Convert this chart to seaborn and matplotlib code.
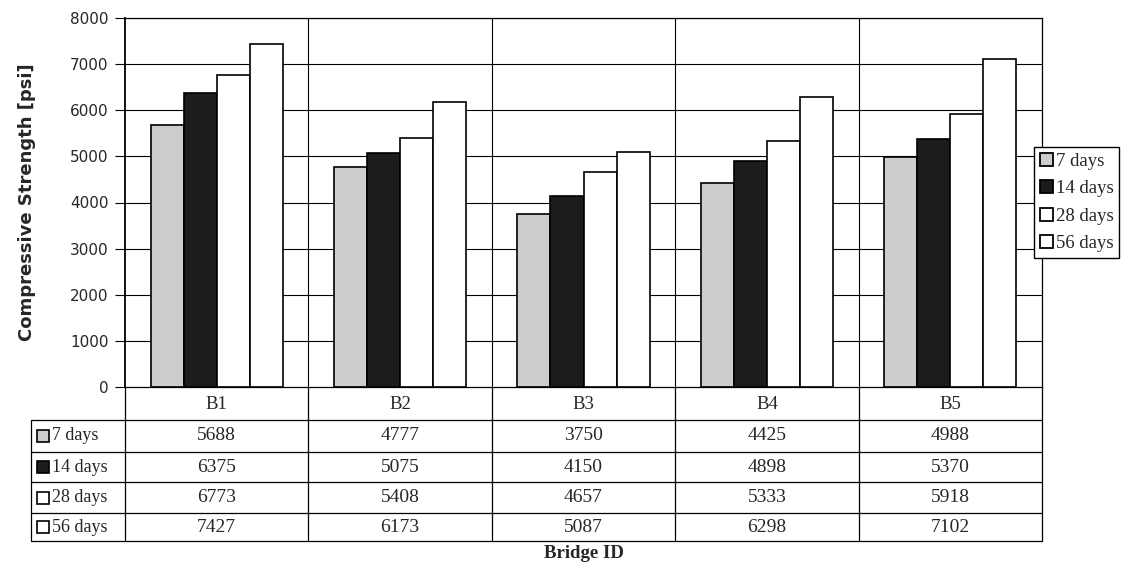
"""Compressive strength by bridge with an Excel-style data table underneath."""

import matplotlib
matplotlib.use("Agg")
import matplotlib.pyplot as plt
import pandas as pd
import seaborn as sns
from matplotlib.patches import Rectangle

BRIDGES = ["B1", "B2", "B3", "B4", "B5"]
AGES = ["7 days", "14 days", "28 days", "56 days"]
DAYS_7 = [5688, 4777, 3750, 4425, 4988]
DAYS_14 = [6375, 5075, 4150, 4898, 5370]
DAYS_28 = [6773, 5408, 4657, 5333, 5918]
DAYS_56 = [7427, 6173, 5087, 6298, 7102]
Y_TICKS = [0, 1000, 2000, 3000, 4000, 5000, 6000, 7000, 8000]

COLORS = {"7 days": "#cdcdcd", "14 days": "#1c1c1c", "28 days": "#ffffff", "56 days": "#ffffff"}
SERIF = ["Liberation Serif", "DejaVu Serif"]
SANS = ["DejaVu Sans"]

W, H = 1122, 567


def fx(px):
    return px / W


def fy(py):
    return 1 - py / H


series = [DAYS_7, DAYS_14, DAYS_28, DAYS_56]
df = pd.DataFrame(
    [(b, age, vals[i]) for age, vals in zip(AGES, series) for i, b in enumerate(BRIDGES)],
    columns=["bridge", "age", "strength"],
)

sns.set_theme(style="white")
plt.rcParams["font.family"] = SERIF

fig = plt.figure(figsize=(W / 100, H / 100), dpi=100)
fig.patch.set_facecolor("white")

# main plot area (pixel bounds)
L, R, T, B = 125, 1042, 18, 387
ax = fig.add_axes([fx(L), fy(B), fx(R - L), (B - T) / H])
sns.barplot(
    data=df, x="bridge", y="strength", hue="age", order=BRIDGES, hue_order=AGES,
    palette=COLORS, edgecolor="black", linewidth=1.2, width=0.72, ax=ax, legend=False,
)
ax.set_xlim(-0.5, len(BRIDGES) - 0.5)
ax.set_ylim(0, 8000)
ax.set_yticks(Y_TICKS)
ax.set_yticklabels([str(t) for t in Y_TICKS], fontsize=11, family=SANS)
ax.set_xticks([])
ax.set_xlabel("")
ax.set_ylabel("Compressive Strength [psi]", fontsize=13, fontweight="bold",
              family=SANS, labelpad=24)
for t in Y_TICKS[1:]:
    ax.axhline(t, color="black", lw=0.8, zorder=0)
for k in range(1, len(BRIDGES)):
    ax.axvline(k - 0.5, color="black", lw=0.8, zorder=0)
for s in ax.spines.values():
    s.set_color("black")
    s.set_linewidth(0.9)
ax.spines["left"].set_linewidth(1.3)
ax.tick_params(axis="y", length=7, width=0.8, color="black", left=True, pad=5)

# legend on the right, overlapping the plot frame
handles = [Rectangle((0, 0), 1, 1, facecolor=COLORS[a], edgecolor="black", lw=1.3) for a in AGES]
leg = fig.legend(
    handles, AGES, loc="upper left", bbox_to_anchor=(fx(1034), fy(147)),
    borderaxespad=0, frameon=True, fancybox=False, framealpha=1, edgecolor="black",
    prop={"family": SERIF, "size": 13.5}, handlelength=0.7, handleheight=0.7,
    handletextpad=0.15, labelspacing=0.55, borderpad=0.3,
)
leg.get_frame().set_linewidth(1.0)

# data table
TL, TB = 31, 541
tax = fig.add_axes([fx(TL), fy(TB), fx(R - TL), (TB - B) / H])
tax.set_xlim(TL, R)
tax.set_ylim(TB, B)
tax.axis("off")
row_edges = [B, 420, 452, 482, 513, TB]
col_w = (R - L) / len(BRIDGES)
col_edges = [L + i * col_w for i in range(len(BRIDGES) + 1)]
lk = dict(color="black", lw=0.9, clip_on=False)
for y in row_edges[1:]:
    tax.plot([TL, R], [y, y], **lk)
tax.plot([TL, TL], [row_edges[1], TB], **lk)
for x in col_edges:
    tax.plot([x, x], [B, TB], **lk)

for i, b in enumerate(BRIDGES):
    cx = (col_edges[i] + col_edges[i + 1]) / 2
    tax.text(cx, (row_edges[0] + row_edges[1]) / 2 + 1, b, ha="center", va="center", fontsize=13.5)
for r, (age, vals) in enumerate(zip(AGES, series)):
    cy = (row_edges[r + 1] + row_edges[r + 2]) / 2
    tax.add_patch(Rectangle((37, cy - 6), 12, 12, facecolor=COLORS[age], edgecolor="black", lw=1.2))
    tax.text(52, cy, age, ha="left", va="center", fontsize=13)
    for i, v in enumerate(vals):
        cx = (col_edges[i] + col_edges[i + 1]) / 2
        tax.text(cx, cy, str(v), ha="center", va="center", fontsize=14)

fig.text(fx((L + R) / 2), fy(553), "Bridge ID", ha="center", va="center",
         fontsize=13.5, fontweight="bold", family=SERIF)

fig.savefig("out.png", dpi=100)
